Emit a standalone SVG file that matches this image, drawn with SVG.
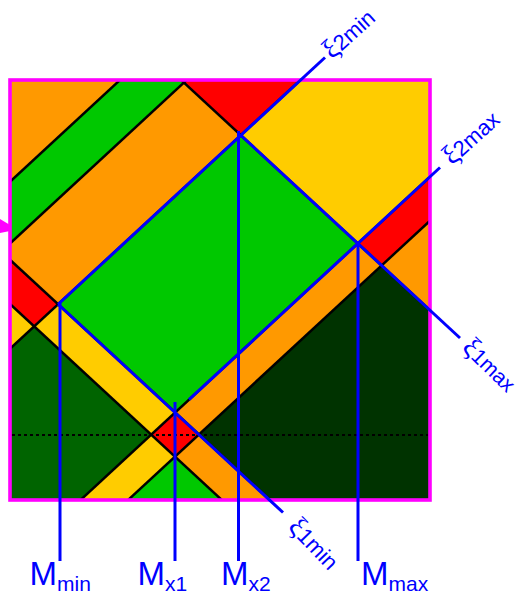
<svg xmlns="http://www.w3.org/2000/svg" width="524" height="595" viewBox="0 0 524 595">
<defs>
<clipPath id="sq"><rect x="10" y="80" width="420" height="420"/></clipPath>
<style>
.ln{stroke:#000;stroke-width:2.5;fill:none}
.bl{stroke:#0000ff;stroke-width:3;fill:none}
.or{fill:#ff9900}.gr{fill:#00c800}.ye{fill:#ffcc00}.rd{fill:#ff0000}.dg1{fill:#006400}.dg2{fill:#003300}
.lab{font-family:"Liberation Sans",Arial,sans-serif;fill:#0000ff}
.xi{font-family:"Liberation Serif","Times New Roman",serif;fill:#0000ff}
</style>
</defs>
<g id="regions" clip-path="url(#sq)">
<rect class="or" x="10" y="80" width="420" height="420"/>
<polygon class="gr" points="150.54,51.75 183.89,82.6 1.19,251.6 -32.16,220.75"/>
<polygon class="rd" points="309.57,-33.65 366.49,19 240.81,135.25 183.89,82.6"/>
<polygon class="rd" points="1.19,251.6 58.11,304.25 34.16,326.4 -22.76,273.75"/>
<polygon class="ye" points="-22.76,273.75 34.16,326.4 -74.05,426.5 -130.97,373.85"/>
<polygon class="ye" points="366.49,19 483.51,127.25 357.84,243.5 240.81,135.25"/>
<polygon class="gr" points="240.81,135.25 357.84,243.5 175.14,412.5 58.11,304.25"/>
<polygon class="ye" points="58.11,304.25 175.14,412.5 151.19,434.65 34.16,326.4"/>
<polygon class="dg1" points="34.16,326.4 151.19,434.65 42.97,534.75 -74.05,426.5"/>
<polygon class="rd" points="483.51,127.25 507.3,149.25 381.62,265.5 357.84,243.5"/>
<polygon class="rd" points="175.14,412.5 198.92,434.5 174.97,456.65 151.19,434.65"/>
<polygon class="ye" points="151.19,434.65 174.97,456.65 66.76,556.75 42.97,534.75"/>
<polygon class="dg2" points="381.62,265.5 533.78,406.25 351.08,575.25 198.92,434.5"/>
<polygon class="gr" points="174.97,456.65 327.14,597.4 218.92,697.5 66.76,556.75"/>
</g>
<g id="grid-lines" clip-path="url(#sq)">
<line class="ln" x1="0" y1="191" x2="440" y2="-216"/>
<line class="ln" x1="0" y1="252.7" x2="440" y2="-154.3"/>
<line class="ln" x1="0" y1="358" x2="440" y2="-49"/>
<line class="ln" x1="0" y1="574.5" x2="440" y2="167.5"/>
<line class="ln" x1="0" y1="618.5" x2="440" y2="211.5"/>
<line class="ln" x1="0" y1="-87.5" x2="440" y2="319.5"/>
<line class="ln" x1="0" y1="250.5" x2="440" y2="657.5"/>
<line class="ln" x1="0" y1="294.8" x2="440" y2="701.8"/>
<line x1="12" y1="435" x2="428" y2="435" stroke="#000" stroke-width="2" stroke-dasharray="3,3"/>
</g>
<g id="frame">
<rect x="10" y="80" width="420" height="420" fill="none" stroke="#ff00ff" stroke-width="3.6"/>
<polygon points="0,219 10,225 10,231 0,233" fill="#ff00ff"/>
</g>
<g id="connectors">
<line class="bl" x1="58.11" y1="304.25" x2="325" y2="57.5"/>
<line class="bl" x1="240.81" y1="135.25" x2="460" y2="338"/>
<line class="bl" x1="189" y1="399.7" x2="440" y2="167.5"/>
<line class="bl" x1="58.11" y1="304.25" x2="283" y2="512.5"/>
<line class="bl" x1="60" y1="302" x2="60" y2="561"/>
<line class="bl" x1="175" y1="402" x2="175" y2="561"/>
<line class="bl" x1="238.5" y1="131" x2="238.5" y2="561"/>
<line class="bl" x1="358" y1="242" x2="358" y2="561"/>
</g>
<g id="labels">
<text class="lab" x="29.5" y="585" font-size="33">M<tspan dy="6" font-size="21">min</tspan></text>
<text class="lab" x="137.6" y="585" font-size="33">M<tspan dy="6" font-size="21">x1</tspan></text>
<text class="lab" x="221" y="585" font-size="33">M<tspan dy="6" font-size="21">x2</tspan></text>
<text class="lab" x="361" y="585" font-size="33">M<tspan dy="6" font-size="21">max</tspan></text>
<text transform="translate(332,60) rotate(-42)"><tspan class="xi" font-size="28">ξ</tspan><tspan class="lab" font-size="22">2min</tspan></text>
<text transform="translate(452,166) rotate(-42)"><tspan class="xi" font-size="28">ξ</tspan><tspan class="lab" font-size="22">2max</tspan></text>
<text transform="translate(461,349) rotate(44)"><tspan class="xi" font-size="28">ξ</tspan><tspan class="lab" font-size="21">1max</tspan></text>
<text transform="translate(287,528) rotate(46)"><tspan class="xi" font-size="28">ξ</tspan><tspan class="lab" font-size="22">1min</tspan></text>
</g>
</svg>
